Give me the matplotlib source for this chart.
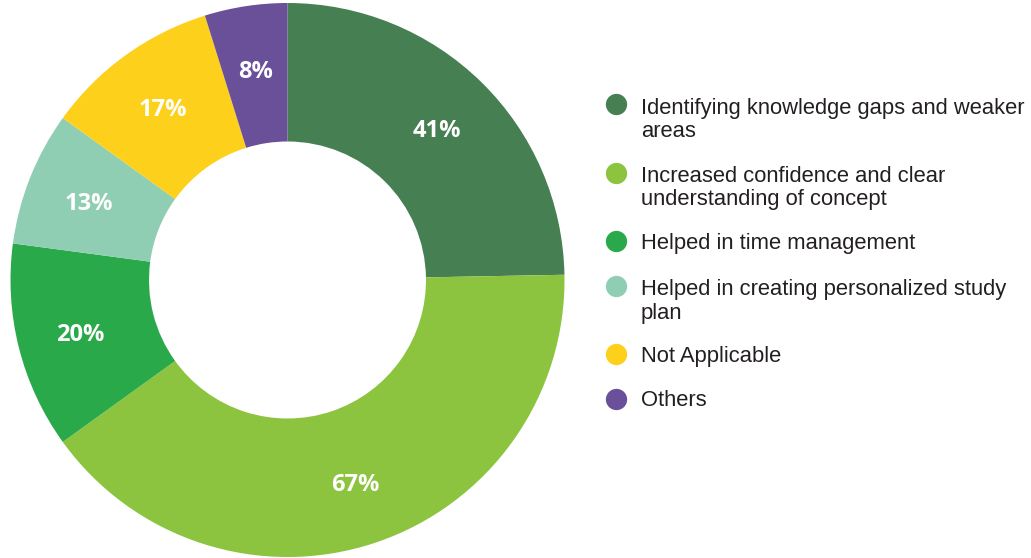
import matplotlib.pyplot as plt
import numpy as np

# Datos de la encuesta
categorias = [
    "Identifying knowledge gaps and weaker\nareas",
    "Increased confidence and clear\nunderstanding of concept",
    "Helped in time management",
    "Helped in creating personalized study\nplan",
    "Not Applicable",
    "Others",
]
valores = [41, 67, 20, 13, 17, 8]
colores = ["#467f52", "#8cc43f", "#2aa94a", "#8fceb2", "#fdd01c", "#6a4f99"]

W, H = 1031, 558
fig = plt.figure(figsize=(W / 100, H / 100), dpi=100)

# Anillo (donut) centrado a la izquierda
R = 277
cx, cy = 287.5, 280
ax = fig.add_axes([(cx - R) / W, (H - cy - R) / H, 2 * R / W, 2 * R / H])
wedges, _ = ax.pie(valores, colors=colores, startangle=90, counterclock=False,
                   radius=1, wedgeprops=dict(width=0.5, linewidth=0))
ax.set_xlim(-1, 1)
ax.set_ylim(-1, 1)
ax.set_aspect("auto")
ax.axis("off")

# Etiquetas de porcentaje en el centro de cada segmento
for w, v in zip(wedges, valores):
    ang = np.deg2rad((w.theta1 + w.theta2) / 2)
    r = 0.77
    ax.text(r * np.cos(ang), r * np.sin(ang), f"{v}%", color="white",
            fontsize=17, fontweight="bold", family="Open Sans",
            ha="center", va="center_baseline")

# Leyenda dibujada a mano (marcador alineado con la primera línea)
lg = fig.add_axes([0, 0, 1, 1])
lg.set_xlim(0, W)
lg.set_ylim(H, 0)
lg.axis("off")
fs = 15.8
paso = 25
y = 104
for cat, col in zip(categorias, colores):
    n = cat.count("\n")
    lg.scatter([615.5], [y], s=235, color=col, linewidths=0)
    # 'baseline' en texto multilínea usa la última línea
    lg.text(641, y + 8 + paso * n, cat, fontsize=fs, family="Liberation Sans",
            color="#231f20", ha="left", va="baseline",
            linespacing=paso / (fs * 100 / 72))
    y += 44.5 + 24 * n

plt.savefig("out.png", dpi=100)
